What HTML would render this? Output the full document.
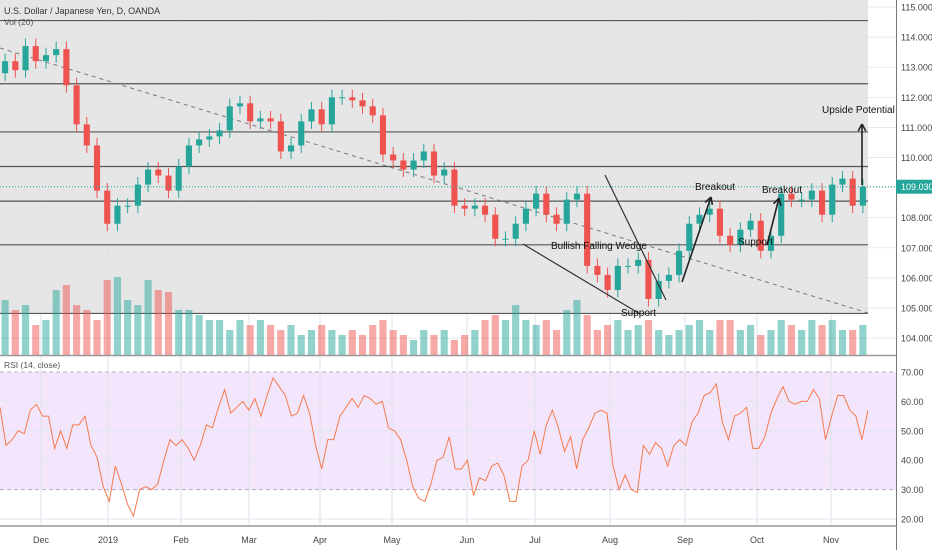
<!DOCTYPE html>
<html><head><meta charset="utf-8">
<style>
body{margin:0;background:#fff;font-family:"Liberation Sans",sans-serif;}
svg{display:block}
text{font-family:"Liberation Sans",sans-serif;}
</style></head>
<body>
<svg id="c" width="932" height="550"></svg>
<script>
const closes=[113.2,112.9,113.7,113.2,113.4,113.6,112.4,111.1,110.4,108.9,107.8,108.4,108.4,109.1,109.6,109.4,108.9,109.7,110.4,110.6,110.7,110.9,111.7,111.8,111.2,111.3,111.2,110.2,110.4,111.2,111.6,111.1,112.0,112.0,111.9,111.7,111.4,110.1,109.9,109.6,109.9,110.2,109.4,109.6,108.4,108.3,108.4,108.1,107.3,107.3,107.8,108.3,108.8,108.1,107.8,108.6,108.8,106.4,106.1,105.6,106.4,106.4,106.6,105.3,105.9,106.1,106.9,107.8,108.1,108.3,107.4,107.1,107.6,107.9,106.9,107.4,108.8,108.6,108.6,108.9,108.1,109.1,109.3,108.4,109.03];
const volumes=[55,45,50,30,35,65,70,50,45,35,75,78,55,50,75,65,63,45,45,40,35,35,25,35,30,35,30,25,30,20,25,30,25,20,25,20,30,35,25,20,15,25,20,25,15,20,25,35,40,35,50,35,30,35,25,45,55,40,25,30,35,25,30,35,25,20,25,30,35,25,35,35,25,30,20,25,35,30,25,35,30,35,25,25,30,20];
const rsi=[58,45,47,50,49,57,59,55,55,44,50,44,52,52,55,45,41,31,26,38,32,25,21,30,31,30,32,40,47,45,47,44,40,45,52,51,58,64,56,58,60,57,61,55,62,68,65,62,55,56,62,56,45,37,47,47,55,58,61,58,62,61,59,60,51,50,47,40,31,27,26,32,40,41,48,37,37,40,28,34,33,38,39,35,26,26,38,40,50,42,52,57,51,43,48,37,47,51,56,57,56,38,30,35,30,29,45,42,46,44,38,45,47,45,53,56,62,63,66,53,47,55,56,58,44,44,48,56,61,65,60,59,60,60,64,61,47,55,62,62,57,55,47,57];
const priceTicks=[115,114,113,112,111,110,109,108,107,106,105,104];
const rsiTicks=[70,60,50,40,30,20];
const months=["Dec","2019","Feb","Mar","Apr","May","Jun","Jul","Aug","Sep","Oct","Nov"];
const monthX=[41,108,181,249,320,392,467,535,610,685,757,831];
const levels=[114.55,112.45,110.85,109.7,108.55,107.1,104.82];

const NS="http://www.w3.org/2000/svg";
const svg=document.getElementById('c');
function el(t,a,p){const e=document.createElementNS(NS,t);for(const k in a)e.setAttribute(k,a[k]);(p||svg).appendChild(e);return e;}
const PW=868;
const py=p=>7+(115-p)*30.1;
const ry=v=>372+(70-v)*2.94;
const vy=v=>355-v;
const cx=i=>(i+0.5)*PW/closes.length;
const rx=i=>i*PW/(rsi.length-1);

let bg=el('rect',{x:0,y:0,width:PW,height:313,fill:'#e6e6e6'});

let band=el('rect',{x:0,y:ry(70),width:896,height:ry(30)-ry(70),fill:'#f3e6fc'});

monthX.forEach((x,i)=>{el('line',{x1:x,y1:0,x2:x,y2:525,stroke:'#dde3e8','stroke-width':1});});
priceTicks.forEach(p=>{el('line',{x1:0,y1:py(p),x2:896,y2:py(p),stroke:'#dde3e8','stroke-width':0.7});});
rsiTicks.forEach(v=>{el('line',{x1:0,y1:ry(v),x2:896,y2:ry(v),stroke:(v==70||v==30)?'#b8b0c0':'#e2e6f0','stroke-dasharray':(v==70||v==30)?'4,3':'', 'stroke-width':1});});
levels.forEach(p=>{let l=el('line',{x1:0,y1:py(p),x2:PW,y2:py(p),stroke:'#555','stroke-width':1.2});
});
volumes.forEach((v,i)=>{if(i>=closes.length)return;const o=i?closes[i-1]:112.8;const up=closes[i]>=o;
const w=PW/closes.length*0.7;
let r=el('rect',{x:cx(i)-w/2,y:vy(v),width:w,height:v,fill:up?'#26a69a':'#ef5350','fill-opacity':0.5});
});
let tl=el('line',{x1:0,y1:48,x2:PW,y2:313,stroke:'#777','stroke-dasharray':'4,4','stroke-width':1});

closes.forEach((c,i)=>{const o=i?closes[i-1]:112.8;const up=c>=o;const col=up?'#26a69a':'#ef5350';
const w=PW/closes.length*0.6;const hi=Math.max(o,c)+0.25,lo=Math.min(o,c)-0.25;
let g=el('g',{});

el('line',{x1:cx(i),y1:py(hi),x2:cx(i),y2:py(lo),stroke:col,'stroke-width':1},g);
el('rect',{x:cx(i)-w/2,y:py(Math.max(o,c)),width:w,height:Math.max(1,Math.abs(py(o)-py(c))),fill:col},g);});
let cp=el('line',{x1:0,y1:py(109.03),x2:896,y2:py(109.03),stroke:'#26a69a','stroke-dasharray':'1,2','stroke-width':1});

let d=rsi.map((v,i)=>(i?'L':'M')+rx(i).toFixed(1)+','+ry(v).toFixed(1)).join('');
let rl=el('path',{d:d,stroke:'#f57a4c','stroke-width':1,fill:'none'});

el('line',{x1:0,y1:355.5,x2:932,y2:355.5,stroke:'#999','stroke-width':1.5});
el('line',{x1:0,y1:526,x2:932,y2:526,stroke:'#999','stroke-width':1.5});
el('rect',{x:897,y:0,width:35,height:550,fill:'#fff'});
el('line',{x1:896.5,y1:0,x2:896.5,y2:550,stroke:'#777','stroke-width':1});
priceTicks.forEach(p=>{let t=el('text',{x:901,y:py(p)+3.5,'font-size':9,fill:'#444'});t.textContent=p.toFixed(3);
});
rsiTicks.forEach(v=>{let t=el('text',{x:901,y:ry(v)+3.5,'font-size':9,fill:'#444'});t.textContent=v.toFixed(2);
});
let pb=el('rect',{x:896,y:py(109.03)-7,width:36,height:14,fill:'#26a69a'});

let pt=el('text',{x:901,y:py(109.03)+3.5,'font-size':9,fill:'#fff'});pt.textContent='109.030';

// annotations on top
const ann=[[523,244,640,314],[605,175,666,300]];
ann.forEach(a=>{let l=el('line',{x1:a[0],y1:a[1],x2:a[2],y2:a[3],stroke:'#333','stroke-width':1.2});
});
const arrows=[[682,282,711,197],[767,245,779,198],[862,185,862,124]];
arrows.forEach(a=>{let g=el('g',{stroke:'#222','stroke-width':1.6,fill:'none'});

el('line',{x1:a[0],y1:a[1],x2:a[2],y2:a[3]},g);
const ang=Math.atan2(a[3]-a[1],a[2]-a[0]);const L=8;
[0.5,-0.5].forEach(d=>{el('line',{x1:a[2],y1:a[3],x2:a[2]-L*Math.cos(ang+d),y2:a[3]-L*Math.sin(ang+d)},g);});});
const labels=[["Breakout",695,190,"breakout-label-1"],["Breakout",762,193,"breakout-label-2"],["Upside Potential",822,113,"upside-potential-label"],["Bullish Falling Wedge",551,249,"wedge-label"],["Support",621,316,"support-label-1"],["Support",738,245,"support-label-2"]];
labels.forEach(l=>{let t=el('text',{x:l[1],y:l[2],'font-size':10,fill:'#111'});t.textContent=l[0];
});
months.forEach((m,i)=>{let t=el('text',{x:monthX[i],y:543,'font-size':9,fill:'#444','text-anchor':'middle'});t.textContent=m;
});
let t1=el('text',{x:4,y:14,'font-size':9,fill:'#333'});t1.textContent='U.S. Dollar / Japanese Yen, D, OANDA';

let t2=el('text',{x:4,y:25,'font-size':8.5,fill:'#555'});t2.textContent='Vol (20)';

let t3=el('text',{x:4,y:368,'font-size':8.5,fill:'#555'});t3.textContent='RSI (14, close)';

</script>
</body></html>
